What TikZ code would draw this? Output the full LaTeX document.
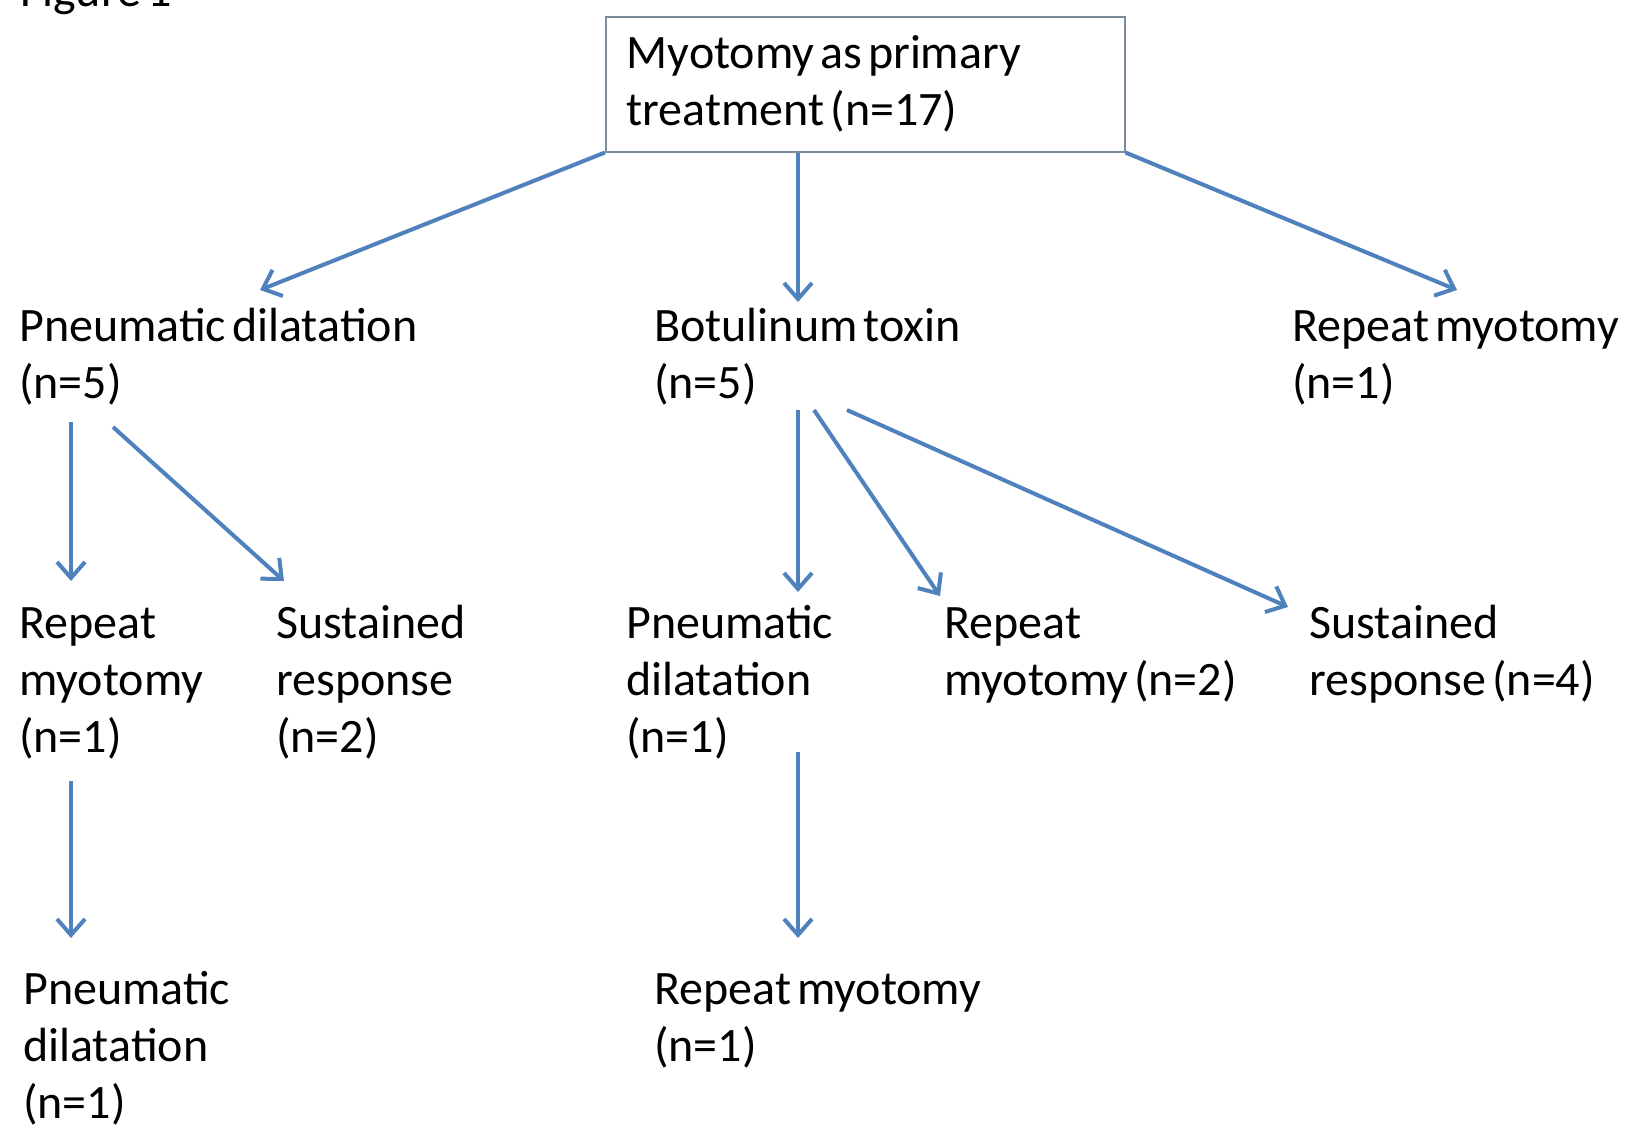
\documentclass[tikz,border=0pt]{standalone}
\usepackage{fontspec}
\setmainfont{Carlito}[WordSpace=0.55]
\usetikzlibrary{arrows.meta,calc}
\definecolor{arrblue}{RGB}{79,129,189}
\definecolor{boxgray}{RGB}{125,140,155}
\begin{document}
\begin{tikzpicture}[x=1pt,y=-1pt,
  lbl/.style={inner sep=0pt, anchor=base west, align=left, font=\fontsize{48}{57}\selectfont},
  arr/.style={draw=arrblue, line width=4pt, -{Straight Barb[length=16pt,width=28pt,line width=4pt]}}]
\useasboundingbox (0,0) rectangle (1634,1133);
\clip (0,0) rectangle (1634,1133);
\fill[white] (0,0) rectangle (1634,1133);
\node[lbl] (fig) at (20,6) {Figure 1};
\node[draw=boxgray, line width=1.5pt, anchor=north west, minimum width=519pt, minimum height=135pt,
      inner xsep=21pt, text width=477pt, align=flush left, font=\fontsize{48}{57}\selectfont] (top) at (605,16)
      {Myotomy as primary\\treatment (n=17)};
\node[lbl] (pd5) at (19,398) {Pneumatic dilatation\\(n=5)};
\node[lbl] (bt5) at (654,398) {Botulinum toxin\\(n=5)};
\node[lbl] (rm1) at (1292,398) {Repeat myotomy\\(n=1)};
\node[lbl] (rm1b) at (19,752) {Repeat\\myotomy\\(n=1)};
\node[lbl] (sr2) at (276,752) {Sustained\\response\\(n=2)};
\node[lbl] (pd1) at (626,752) {Pneumatic\\dilatation\\(n=1)};
\node[lbl] (rm2) at (944,695) {Repeat\\myotomy (n=2)};
\node[lbl] (sr4) at (1309,695) {Sustained\\response (n=4)};
\node[lbl] (pd1b) at (23,1118) {Pneumatic\\dilatation\\(n=1)};
\node[lbl] (rm1c) at (654,1061) {Repeat myotomy\\(n=1)};
\draw[arr] (top.south west) -- ($(pd5.base west)+(241,-108)$);
\draw[arr] ($(top.south west)+(193,0)$) -- ($(bt5.base west)+(144,-96)$);
\draw[arr] (top.south east) -- ($(rm1.base west)+(165,-108)$);
\draw[arr] ($(pd5.base west)+(52,24)$) -- ($(rm1b.base west)+(52,-171)$);
\draw[arr] ($(pd5.base west)+(94,29)$) -- ($(sr2.base west)+(8,-171)$);
\draw[arr] ($(bt5.base west)+(144,12)$) -- ($(pd1.base west)+(172,-160)$);
\draw[arr] ($(bt5.base west)+(160,12)$) -- ($(rm2.base west)+(-4,-99)$);
\draw[arr] ($(bt5.base west)+(193,12)$) -- ($(sr4.base west)+(-21,-88)$);
\draw[arr] ($(rm1b.base west)+(52,29)$) -- ($(pd1b.base west)+(48,-180)$);
\draw[arr] ($(pd1.base west)+(172,0)$) -- ($(rm1c.base west)+(144,-123)$);
\end{tikzpicture}
\end{document}
